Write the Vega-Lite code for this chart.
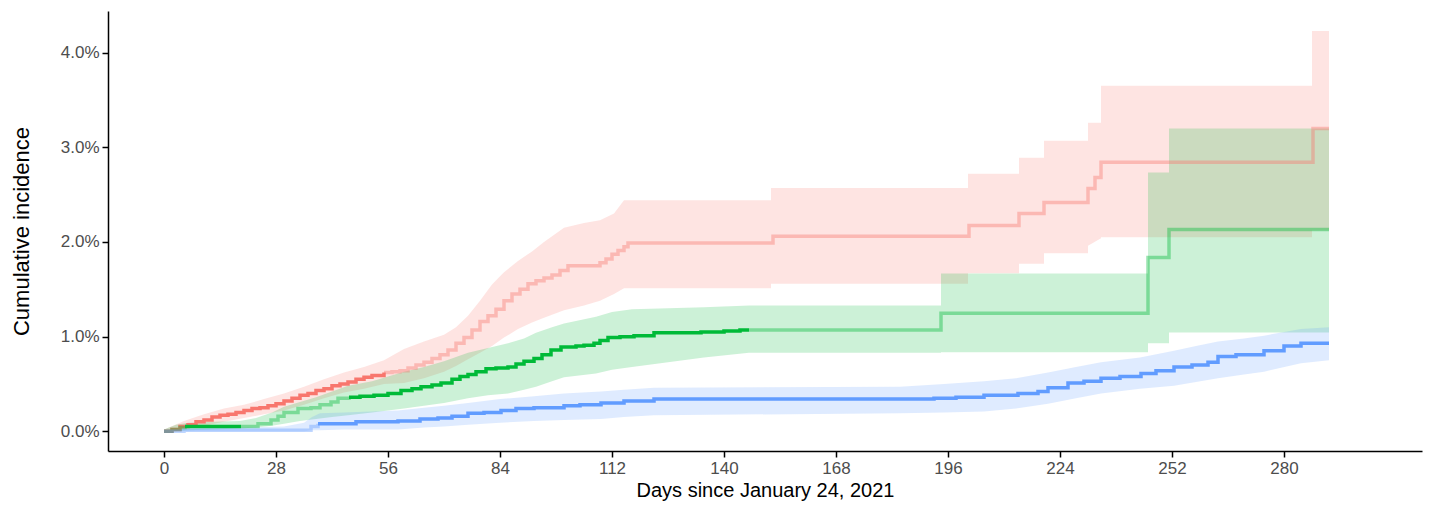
{
  "$schema": "https://vega.github.io/schema/vega-lite/v6.json",
  "width": 1314,
  "height": 440,
  "autosize": {"type": "none"},
  "padding": {"left": 108, "top": 11, "right": 7, "bottom": 54},
  "background": "white",
  "config": {
    "view": {"stroke": null},
    "font": "Liberation Sans",
    "axis": {
      "grid": false,
      "domainColor": "#000000",
      "domainWidth": 1.5,
      "tickColor": "#000000",
      "tickWidth": 1.5,
      "tickSize": 6,
      "labelColor": "#4D4D4D",
      "labelFont": "Liberation Sans",
      "labelFontSize": 17,
      "labelPadding": 3,
      "titleFont": "Liberation Sans",
      "titleFontWeight": "normal",
      "titleColor": "#000000"
    }
  },
  "datasets": {
    "bands": [
      {"group": "Group 1", "day": 0, "lo": 0, "hi": 0.0002},
      {"group": "Group 1", "day": 5, "lo": 0.0002, "hi": 0.0011},
      {"group": "Group 1", "day": 10, "lo": 0.0006, "hi": 0.0018},
      {"group": "Group 1", "day": 15, "lo": 0.001, "hi": 0.0024},
      {"group": "Group 1", "day": 20, "lo": 0.0014, "hi": 0.0028},
      {"group": "Group 1", "day": 25, "lo": 0.0018, "hi": 0.0034},
      {"group": "Group 1", "day": 30, "lo": 0.0022, "hi": 0.004},
      {"group": "Group 1", "day": 35, "lo": 0.0028, "hi": 0.0047},
      {"group": "Group 1", "day": 40, "lo": 0.0035, "hi": 0.0055},
      {"group": "Group 1", "day": 45, "lo": 0.0041, "hi": 0.0062},
      {"group": "Group 1", "day": 50, "lo": 0.0045, "hi": 0.0068},
      {"group": "Group 1", "day": 55, "lo": 0.005, "hi": 0.0075},
      {"group": "Group 1", "day": 60, "lo": 0.0051, "hi": 0.0087},
      {"group": "Group 1", "day": 65, "lo": 0.0056, "hi": 0.0095},
      {"group": "Group 1", "day": 70, "lo": 0.0063, "hi": 0.0102},
      {"group": "Group 1", "day": 73, "lo": 0.0069, "hi": 0.011},
      {"group": "Group 1", "day": 76, "lo": 0.0076, "hi": 0.0122},
      {"group": "Group 1", "day": 79, "lo": 0.0083, "hi": 0.0138},
      {"group": "Group 1", "day": 82, "lo": 0.009, "hi": 0.0155},
      {"group": "Group 1", "day": 85, "lo": 0.0099, "hi": 0.0168},
      {"group": "Group 1", "day": 88.5, "lo": 0.0108, "hi": 0.018},
      {"group": "Group 1", "day": 92, "lo": 0.0115, "hi": 0.019},
      {"group": "Group 1", "day": 95, "lo": 0.012, "hi": 0.02},
      {"group": "Group 1", "day": 100, "lo": 0.0128, "hi": 0.0215},
      {"group": "Group 1", "day": 105, "lo": 0.0133, "hi": 0.022},
      {"group": "Group 1", "day": 109, "lo": 0.0138, "hi": 0.0223},
      {"group": "Group 1", "day": 112.5, "lo": 0.0145, "hi": 0.023},
      {"group": "Group 1", "day": 115, "lo": 0.0151, "hi": 0.0244},
      {"group": "Group 1", "day": 151.75, "lo": 0.0151, "hi": 0.0244},
      {"group": "Group 1", "day": 151.75, "lo": 0.0156, "hi": 0.0257},
      {"group": "Group 1", "day": 201, "lo": 0.0156, "hi": 0.0257},
      {"group": "Group 1", "day": 201, "lo": 0.0167, "hi": 0.0272},
      {"group": "Group 1", "day": 213.75, "lo": 0.0167, "hi": 0.0272},
      {"group": "Group 1", "day": 213.75, "lo": 0.0177, "hi": 0.0289},
      {"group": "Group 1", "day": 220, "lo": 0.0177, "hi": 0.0289},
      {"group": "Group 1", "day": 220, "lo": 0.0188, "hi": 0.0307},
      {"group": "Group 1", "day": 231, "lo": 0.0188, "hi": 0.0307},
      {"group": "Group 1", "day": 231, "lo": 0.0196, "hi": 0.0326},
      {"group": "Group 1", "day": 234.25, "lo": 0.0204, "hi": 0.0326},
      {"group": "Group 1", "day": 234.25, "lo": 0.0205, "hi": 0.0365},
      {"group": "Group 1", "day": 287, "lo": 0.0205, "hi": 0.0365},
      {"group": "Group 1", "day": 287, "lo": 0.0212, "hi": 0.0423},
      {"group": "Group 1", "day": 291.25, "lo": 0.0212, "hi": 0.0423},
      {"group": "Group 2", "day": 0, "lo": 0, "hi": 0.0002},
      {"group": "Group 2", "day": 3, "lo": 0, "hi": 0.0007},
      {"group": "Group 2", "day": 6, "lo": 0.0001, "hi": 0.0009},
      {"group": "Group 2", "day": 12, "lo": 0.0002, "hi": 0.001},
      {"group": "Group 2", "day": 19, "lo": 0.0003, "hi": 0.0011},
      {"group": "Group 2", "day": 23, "lo": 0.0004, "hi": 0.0014},
      {"group": "Group 2", "day": 27, "lo": 0.0006, "hi": 0.002},
      {"group": "Group 2", "day": 30, "lo": 0.0008, "hi": 0.0026},
      {"group": "Group 2", "day": 34, "lo": 0.0011, "hi": 0.0031},
      {"group": "Group 2", "day": 38, "lo": 0.0013, "hi": 0.0036},
      {"group": "Group 2", "day": 42, "lo": 0.0015, "hi": 0.0042},
      {"group": "Group 2", "day": 46, "lo": 0.0017, "hi": 0.0048},
      {"group": "Group 2", "day": 52, "lo": 0.002, "hi": 0.0053},
      {"group": "Group 2", "day": 56, "lo": 0.0022, "hi": 0.0058},
      {"group": "Group 2", "day": 60, "lo": 0.0024, "hi": 0.0063},
      {"group": "Group 2", "day": 65, "lo": 0.0027, "hi": 0.0068},
      {"group": "Group 2", "day": 70, "lo": 0.003, "hi": 0.0074},
      {"group": "Group 2", "day": 76, "lo": 0.0035, "hi": 0.0083},
      {"group": "Group 2", "day": 81, "lo": 0.0038, "hi": 0.0088},
      {"group": "Group 2", "day": 86, "lo": 0.004, "hi": 0.0093},
      {"group": "Group 2", "day": 90, "lo": 0.0044, "hi": 0.0098},
      {"group": "Group 2", "day": 93, "lo": 0.0047, "hi": 0.0104},
      {"group": "Group 2", "day": 97, "lo": 0.0053, "hi": 0.011},
      {"group": "Group 2", "day": 100, "lo": 0.0057, "hi": 0.0114},
      {"group": "Group 2", "day": 108, "lo": 0.0061, "hi": 0.0121},
      {"group": "Group 2", "day": 112, "lo": 0.0065, "hi": 0.0126},
      {"group": "Group 2", "day": 117, "lo": 0.0068, "hi": 0.0129},
      {"group": "Group 2", "day": 135, "lo": 0.0078, "hi": 0.0131},
      {"group": "Group 2", "day": 146.25, "lo": 0.0083, "hi": 0.0133},
      {"group": "Group 2", "day": 194.25, "lo": 0.0083, "hi": 0.0133},
      {"group": "Group 2", "day": 194.25, "lo": 0.00834, "hi": 0.01668},
      {"group": "Group 2", "day": 246, "lo": 0.00834, "hi": 0.01668},
      {"group": "Group 2", "day": 246, "lo": 0.0093, "hi": 0.02735},
      {"group": "Group 2", "day": 251.25, "lo": 0.0093, "hi": 0.02735},
      {"group": "Group 2", "day": 251.25, "lo": 0.01045, "hi": 0.032},
      {"group": "Group 2", "day": 291.25, "lo": 0.01045, "hi": 0.032},
      {"group": "Group 3", "day": 0, "lo": 0, "hi": 0.0001},
      {"group": "Group 3", "day": 10, "lo": 0, "hi": 0.0003},
      {"group": "Group 3", "day": 30, "lo": 0, "hi": 0.0005},
      {"group": "Group 3", "day": 35, "lo": 0, "hi": 0.0009},
      {"group": "Group 3", "day": 37, "lo": 0.0001, "hi": 0.0015},
      {"group": "Group 3", "day": 39, "lo": 0.0001, "hi": 0.0019},
      {"group": "Group 3", "day": 45, "lo": 0.0002, "hi": 0.002},
      {"group": "Group 3", "day": 58.5, "lo": 0.0002, "hi": 0.0022},
      {"group": "Group 3", "day": 65, "lo": 0.0004, "hi": 0.0025},
      {"group": "Group 3", "day": 70, "lo": 0.0005, "hi": 0.0027},
      {"group": "Group 3", "day": 76, "lo": 0.0007, "hi": 0.003},
      {"group": "Group 3", "day": 84, "lo": 0.0009, "hi": 0.0034},
      {"group": "Group 3", "day": 92.5, "lo": 0.0011, "hi": 0.0037},
      {"group": "Group 3", "day": 100, "lo": 0.0012, "hi": 0.004},
      {"group": "Group 3", "day": 109.25, "lo": 0.0013, "hi": 0.0042},
      {"group": "Group 3", "day": 115, "lo": 0.0015, "hi": 0.0044},
      {"group": "Group 3", "day": 122.5, "lo": 0.0017, "hi": 0.0046},
      {"group": "Group 3", "day": 184, "lo": 0.0019, "hi": 0.0047},
      {"group": "Group 3", "day": 195, "lo": 0.002, "hi": 0.005},
      {"group": "Group 3", "day": 205, "lo": 0.0021, "hi": 0.0053},
      {"group": "Group 3", "day": 213, "lo": 0.0024, "hi": 0.0056},
      {"group": "Group 3", "day": 221, "lo": 0.0029, "hi": 0.0062},
      {"group": "Group 3", "day": 228, "lo": 0.0035, "hi": 0.0068},
      {"group": "Group 3", "day": 234.25, "lo": 0.004, "hi": 0.0073},
      {"group": "Group 3", "day": 244, "lo": 0.0045, "hi": 0.0078},
      {"group": "Group 3", "day": 252.5, "lo": 0.0048, "hi": 0.0085},
      {"group": "Group 3", "day": 258, "lo": 0.0052, "hi": 0.009},
      {"group": "Group 3", "day": 263.5, "lo": 0.0056, "hi": 0.0095},
      {"group": "Group 3", "day": 270, "lo": 0.006, "hi": 0.0098},
      {"group": "Group 3", "day": 275, "lo": 0.0063, "hi": 0.0101},
      {"group": "Group 3", "day": 284.25, "lo": 0.0072, "hi": 0.0108},
      {"group": "Group 3", "day": 291.25, "lo": 0.0075, "hi": 0.011}
    ],
    "curves": [
      {"group": "Group 1", "piece": "r1", "emphasis": "high", "day": 0, "est": 0},
      {"group": "Group 1", "piece": "r1", "emphasis": "high", "day": 2, "est": 0.0002},
      {"group": "Group 1", "piece": "r1", "emphasis": "high", "day": 4, "est": 0.0005},
      {"group": "Group 1", "piece": "r1", "emphasis": "high", "day": 6, "est": 0.0007},
      {"group": "Group 1", "piece": "r1", "emphasis": "high", "day": 8, "est": 0.001},
      {"group": "Group 1", "piece": "r1", "emphasis": "high", "day": 10, "est": 0.0012},
      {"group": "Group 1", "piece": "r1", "emphasis": "high", "day": 12, "est": 0.0015},
      {"group": "Group 1", "piece": "r1", "emphasis": "high", "day": 14, "est": 0.0017},
      {"group": "Group 1", "piece": "r1", "emphasis": "high", "day": 16, "est": 0.0018},
      {"group": "Group 1", "piece": "r1", "emphasis": "high", "day": 18, "est": 0.002},
      {"group": "Group 1", "piece": "r1", "emphasis": "high", "day": 20, "est": 0.0022},
      {"group": "Group 1", "piece": "r1", "emphasis": "high", "day": 22, "est": 0.0024},
      {"group": "Group 1", "piece": "r1", "emphasis": "high", "day": 24, "est": 0.0025},
      {"group": "Group 1", "piece": "r1", "emphasis": "high", "day": 26, "est": 0.0027},
      {"group": "Group 1", "piece": "r1", "emphasis": "high", "day": 28, "est": 0.0029},
      {"group": "Group 1", "piece": "r1", "emphasis": "high", "day": 30, "est": 0.0032},
      {"group": "Group 1", "piece": "r1", "emphasis": "high", "day": 32, "est": 0.0035},
      {"group": "Group 1", "piece": "r1", "emphasis": "high", "day": 34, "est": 0.0038},
      {"group": "Group 1", "piece": "r1", "emphasis": "high", "day": 36, "est": 0.004},
      {"group": "Group 1", "piece": "r1", "emphasis": "high", "day": 38, "est": 0.0043},
      {"group": "Group 1", "piece": "r1", "emphasis": "high", "day": 40, "est": 0.0045},
      {"group": "Group 1", "piece": "r1", "emphasis": "high", "day": 42, "est": 0.0048},
      {"group": "Group 1", "piece": "r1", "emphasis": "high", "day": 44, "est": 0.005},
      {"group": "Group 1", "piece": "r1", "emphasis": "high", "day": 46, "est": 0.0052},
      {"group": "Group 1", "piece": "r1", "emphasis": "high", "day": 48, "est": 0.0055},
      {"group": "Group 1", "piece": "r1", "emphasis": "high", "day": 50, "est": 0.0057},
      {"group": "Group 1", "piece": "r1", "emphasis": "high", "day": 52, "est": 0.0059},
      {"group": "Group 1", "piece": "r1", "emphasis": "high", "day": 55, "est": 0.0062},
      {"group": "Group 1", "piece": "r2", "emphasis": "low", "day": 55, "est": 0.0062},
      {"group": "Group 1", "piece": "r2", "emphasis": "low", "day": 57, "est": 0.0063},
      {"group": "Group 1", "piece": "r2", "emphasis": "low", "day": 59, "est": 0.0064},
      {"group": "Group 1", "piece": "r2", "emphasis": "low", "day": 61, "est": 0.0067},
      {"group": "Group 1", "piece": "r2", "emphasis": "low", "day": 63, "est": 0.007},
      {"group": "Group 1", "piece": "r2", "emphasis": "low", "day": 65, "est": 0.0073},
      {"group": "Group 1", "piece": "r2", "emphasis": "low", "day": 67, "est": 0.0077},
      {"group": "Group 1", "piece": "r2", "emphasis": "low", "day": 69, "est": 0.0081},
      {"group": "Group 1", "piece": "r2", "emphasis": "low", "day": 71, "est": 0.0086},
      {"group": "Group 1", "piece": "r2", "emphasis": "low", "day": 73, "est": 0.0093},
      {"group": "Group 1", "piece": "r2", "emphasis": "low", "day": 75, "est": 0.0099},
      {"group": "Group 1", "piece": "r2", "emphasis": "low", "day": 77, "est": 0.0107},
      {"group": "Group 1", "piece": "r2", "emphasis": "low", "day": 79, "est": 0.0116},
      {"group": "Group 1", "piece": "r2", "emphasis": "low", "day": 81, "est": 0.0122},
      {"group": "Group 1", "piece": "r2", "emphasis": "low", "day": 83, "est": 0.0129},
      {"group": "Group 1", "piece": "r2", "emphasis": "low", "day": 85, "est": 0.0138},
      {"group": "Group 1", "piece": "r2", "emphasis": "low", "day": 87, "est": 0.0145},
      {"group": "Group 1", "piece": "r2", "emphasis": "low", "day": 89, "est": 0.015},
      {"group": "Group 1", "piece": "r2", "emphasis": "low", "day": 91, "est": 0.0156},
      {"group": "Group 1", "piece": "r2", "emphasis": "low", "day": 93, "est": 0.0159},
      {"group": "Group 1", "piece": "r2", "emphasis": "low", "day": 95, "est": 0.0162},
      {"group": "Group 1", "piece": "r2", "emphasis": "low", "day": 97, "est": 0.0165},
      {"group": "Group 1", "piece": "r2", "emphasis": "low", "day": 99, "est": 0.017},
      {"group": "Group 1", "piece": "r2", "emphasis": "low", "day": 101, "est": 0.0175},
      {"group": "Group 1", "piece": "r2", "emphasis": "low", "day": 109, "est": 0.0178},
      {"group": "Group 1", "piece": "r2", "emphasis": "low", "day": 110.5, "est": 0.0182},
      {"group": "Group 1", "piece": "r2", "emphasis": "low", "day": 112, "est": 0.0187},
      {"group": "Group 1", "piece": "r2", "emphasis": "low", "day": 113.5, "est": 0.0191},
      {"group": "Group 1", "piece": "r2", "emphasis": "low", "day": 115, "est": 0.0195},
      {"group": "Group 1", "piece": "r2", "emphasis": "low", "day": 116, "est": 0.0199},
      {"group": "Group 1", "piece": "r2", "emphasis": "low", "day": 152.25, "est": 0.0206},
      {"group": "Group 1", "piece": "r2", "emphasis": "low", "day": 201.25, "est": 0.02175},
      {"group": "Group 1", "piece": "r2", "emphasis": "low", "day": 213.75, "est": 0.02302},
      {"group": "Group 1", "piece": "r2", "emphasis": "low", "day": 220, "est": 0.02418},
      {"group": "Group 1", "piece": "r2", "emphasis": "low", "day": 231, "est": 0.02566},
      {"group": "Group 1", "piece": "r2", "emphasis": "low", "day": 232.75, "est": 0.02682},
      {"group": "Group 1", "piece": "r2", "emphasis": "low", "day": 234.25, "est": 0.02841},
      {"group": "Group 1", "piece": "r2", "emphasis": "low", "day": 287.25, "est": 0.032},
      {"group": "Group 1", "piece": "r2", "emphasis": "low", "day": 291.25, "est": 0.032},
      {"group": "Group 2", "piece": "g1", "emphasis": "low", "day": 0, "est": 0},
      {"group": "Group 2", "piece": "g1", "emphasis": "low", "day": 2, "est": 0.0002},
      {"group": "Group 2", "piece": "g1", "emphasis": "low", "day": 4, "est": 0.0004},
      {"group": "Group 2", "piece": "g1", "emphasis": "low", "day": 5.25, "est": 0.0005},
      {"group": "Group 2", "piece": "g2", "emphasis": "high", "day": 5.25, "est": 0.0005},
      {"group": "Group 2", "piece": "g2", "emphasis": "high", "day": 19.25, "est": 0.0005},
      {"group": "Group 2", "piece": "g3", "emphasis": "low", "day": 19.25, "est": 0.0005},
      {"group": "Group 2", "piece": "g3", "emphasis": "low", "day": 23.5, "est": 0.0008},
      {"group": "Group 2", "piece": "g3", "emphasis": "low", "day": 26.75, "est": 0.0012},
      {"group": "Group 2", "piece": "g3", "emphasis": "low", "day": 28.5, "est": 0.0016},
      {"group": "Group 2", "piece": "g3", "emphasis": "low", "day": 30, "est": 0.002},
      {"group": "Group 2", "piece": "g3", "emphasis": "low", "day": 33.5, "est": 0.0024},
      {"group": "Group 2", "piece": "g3", "emphasis": "low", "day": 36.75, "est": 0.0025},
      {"group": "Group 2", "piece": "g3", "emphasis": "low", "day": 39, "est": 0.0028},
      {"group": "Group 2", "piece": "g3", "emphasis": "low", "day": 41.75, "est": 0.0031},
      {"group": "Group 2", "piece": "g3", "emphasis": "low", "day": 43.5, "est": 0.0035},
      {"group": "Group 2", "piece": "g3", "emphasis": "low", "day": 46.25, "est": 0.0036},
      {"group": "Group 2", "piece": "g4", "emphasis": "high", "day": 46.25, "est": 0.0036},
      {"group": "Group 2", "piece": "g4", "emphasis": "high", "day": 49, "est": 0.0037},
      {"group": "Group 2", "piece": "g4", "emphasis": "high", "day": 52.5, "est": 0.0038},
      {"group": "Group 2", "piece": "g4", "emphasis": "high", "day": 56, "est": 0.004},
      {"group": "Group 2", "piece": "g4", "emphasis": "high", "day": 59.25, "est": 0.0043},
      {"group": "Group 2", "piece": "g4", "emphasis": "high", "day": 62, "est": 0.0045},
      {"group": "Group 2", "piece": "g4", "emphasis": "high", "day": 64.25, "est": 0.0047},
      {"group": "Group 2", "piece": "g4", "emphasis": "high", "day": 67, "est": 0.0049},
      {"group": "Group 2", "piece": "g4", "emphasis": "high", "day": 69.25, "est": 0.0051},
      {"group": "Group 2", "piece": "g4", "emphasis": "high", "day": 72, "est": 0.0055},
      {"group": "Group 2", "piece": "g4", "emphasis": "high", "day": 74, "est": 0.0058},
      {"group": "Group 2", "piece": "g4", "emphasis": "high", "day": 76, "est": 0.006},
      {"group": "Group 2", "piece": "g4", "emphasis": "high", "day": 78, "est": 0.0063},
      {"group": "Group 2", "piece": "g4", "emphasis": "high", "day": 80.5, "est": 0.0066},
      {"group": "Group 2", "piece": "g4", "emphasis": "high", "day": 83, "est": 0.0067},
      {"group": "Group 2", "piece": "g4", "emphasis": "high", "day": 86, "est": 0.0068},
      {"group": "Group 2", "piece": "g4", "emphasis": "high", "day": 88, "est": 0.0071},
      {"group": "Group 2", "piece": "g4", "emphasis": "high", "day": 90, "est": 0.0074},
      {"group": "Group 2", "piece": "g4", "emphasis": "high", "day": 92.5, "est": 0.0077},
      {"group": "Group 2", "piece": "g4", "emphasis": "high", "day": 94.5, "est": 0.0081},
      {"group": "Group 2", "piece": "g4", "emphasis": "high", "day": 96.75, "est": 0.0086},
      {"group": "Group 2", "piece": "g4", "emphasis": "high", "day": 99.25, "est": 0.0089},
      {"group": "Group 2", "piece": "g4", "emphasis": "high", "day": 103, "est": 0.009},
      {"group": "Group 2", "piece": "g4", "emphasis": "high", "day": 105, "est": 0.0091},
      {"group": "Group 2", "piece": "g4", "emphasis": "high", "day": 107.5, "est": 0.0093},
      {"group": "Group 2", "piece": "g4", "emphasis": "high", "day": 109, "est": 0.0096},
      {"group": "Group 2", "piece": "g4", "emphasis": "high", "day": 111, "est": 0.0099},
      {"group": "Group 2", "piece": "g4", "emphasis": "high", "day": 114, "est": 0.01},
      {"group": "Group 2", "piece": "g4", "emphasis": "high", "day": 117.5, "est": 0.0101},
      {"group": "Group 2", "piece": "g4", "emphasis": "high", "day": 122.5, "est": 0.0104},
      {"group": "Group 2", "piece": "g4", "emphasis": "high", "day": 134.25, "est": 0.0105},
      {"group": "Group 2", "piece": "g4", "emphasis": "high", "day": 140, "est": 0.0106},
      {"group": "Group 2", "piece": "g4", "emphasis": "high", "day": 144, "est": 0.0107},
      {"group": "Group 2", "piece": "g4", "emphasis": "high", "day": 146.25, "est": 0.0107},
      {"group": "Group 2", "piece": "g5", "emphasis": "low", "day": 146.25, "est": 0.0107},
      {"group": "Group 2", "piece": "g5", "emphasis": "low", "day": 194.25, "est": 0.01246},
      {"group": "Group 2", "piece": "g5", "emphasis": "low", "day": 246, "est": 0.01837},
      {"group": "Group 2", "piece": "g5", "emphasis": "low", "day": 251.25, "est": 0.02133},
      {"group": "Group 2", "piece": "g5", "emphasis": "low", "day": 291.25, "est": 0.02133},
      {"group": "Group 3", "piece": "b1", "emphasis": "low", "day": 0, "est": 0},
      {"group": "Group 3", "piece": "b1", "emphasis": "low", "day": 5, "est": 0.0001},
      {"group": "Group 3", "piece": "b1", "emphasis": "low", "day": 35, "est": 0.0001},
      {"group": "Group 3", "piece": "b1", "emphasis": "low", "day": 36.75, "est": 0.0005},
      {"group": "Group 3", "piece": "b1", "emphasis": "low", "day": 38.5, "est": 0.0008},
      {"group": "Group 3", "piece": "b2", "emphasis": "high", "day": 38.5, "est": 0.0008},
      {"group": "Group 3", "piece": "b2", "emphasis": "high", "day": 48, "est": 0.001},
      {"group": "Group 3", "piece": "b2", "emphasis": "high", "day": 58.5, "est": 0.0011},
      {"group": "Group 3", "piece": "b2", "emphasis": "high", "day": 64, "est": 0.0013},
      {"group": "Group 3", "piece": "b2", "emphasis": "high", "day": 68.5, "est": 0.0014},
      {"group": "Group 3", "piece": "b2", "emphasis": "high", "day": 72, "est": 0.0016},
      {"group": "Group 3", "piece": "b2", "emphasis": "high", "day": 76, "est": 0.0019},
      {"group": "Group 3", "piece": "b2", "emphasis": "high", "day": 80, "est": 0.002},
      {"group": "Group 3", "piece": "b2", "emphasis": "high", "day": 84.25, "est": 0.0022},
      {"group": "Group 3", "piece": "b2", "emphasis": "high", "day": 88, "est": 0.0024},
      {"group": "Group 3", "piece": "b2", "emphasis": "high", "day": 92.5, "est": 0.0025},
      {"group": "Group 3", "piece": "b2", "emphasis": "high", "day": 100, "est": 0.0027},
      {"group": "Group 3", "piece": "b2", "emphasis": "high", "day": 104, "est": 0.0028},
      {"group": "Group 3", "piece": "b2", "emphasis": "high", "day": 109.25, "est": 0.003},
      {"group": "Group 3", "piece": "b2", "emphasis": "high", "day": 115, "est": 0.0032},
      {"group": "Group 3", "piece": "b2", "emphasis": "high", "day": 122.5, "est": 0.0034},
      {"group": "Group 3", "piece": "b2", "emphasis": "high", "day": 184.25, "est": 0.0034},
      {"group": "Group 3", "piece": "b2", "emphasis": "high", "day": 192.5, "est": 0.0035},
      {"group": "Group 3", "piece": "b2", "emphasis": "high", "day": 198, "est": 0.0036},
      {"group": "Group 3", "piece": "b2", "emphasis": "high", "day": 205, "est": 0.0038},
      {"group": "Group 3", "piece": "b2", "emphasis": "high", "day": 213.5, "est": 0.004},
      {"group": "Group 3", "piece": "b2", "emphasis": "high", "day": 218.5, "est": 0.0042},
      {"group": "Group 3", "piece": "b2", "emphasis": "high", "day": 221, "est": 0.0046},
      {"group": "Group 3", "piece": "b2", "emphasis": "high", "day": 226, "est": 0.0051},
      {"group": "Group 3", "piece": "b2", "emphasis": "high", "day": 230, "est": 0.0053},
      {"group": "Group 3", "piece": "b2", "emphasis": "high", "day": 234.25, "est": 0.0056},
      {"group": "Group 3", "piece": "b2", "emphasis": "high", "day": 239, "est": 0.0058},
      {"group": "Group 3", "piece": "b2", "emphasis": "high", "day": 244.25, "est": 0.0061},
      {"group": "Group 3", "piece": "b2", "emphasis": "high", "day": 248, "est": 0.0064},
      {"group": "Group 3", "piece": "b2", "emphasis": "high", "day": 252.5, "est": 0.0068},
      {"group": "Group 3", "piece": "b2", "emphasis": "high", "day": 257, "est": 0.007},
      {"group": "Group 3", "piece": "b2", "emphasis": "high", "day": 261, "est": 0.0073},
      {"group": "Group 3", "piece": "b2", "emphasis": "high", "day": 263.5, "est": 0.0079},
      {"group": "Group 3", "piece": "b2", "emphasis": "high", "day": 268, "est": 0.0081},
      {"group": "Group 3", "piece": "b2", "emphasis": "high", "day": 275, "est": 0.0085},
      {"group": "Group 3", "piece": "b2", "emphasis": "high", "day": 280, "est": 0.009},
      {"group": "Group 3", "piece": "b2", "emphasis": "high", "day": 284.25, "est": 0.0093},
      {"group": "Group 3", "piece": "b2", "emphasis": "high", "day": 291.25, "est": 0.0093}
    ]
  },
  "layer": [
    {
      "data": {"name": "bands"},
      "mark": {"type": "area", "interpolate": "linear", "opacity": 0.2},
      "encoding": {
        "x": {"field": "day", "type": "quantitative", "scale": {"domain": [-14, 314.5], "nice": false, "zero": false},
          "axis": {"values": [0, 28, 56, 84, 112, 140, 168, 196, 224, 252, 280], "title": "Days since January 24, 2021", "titleFontSize": 20, "titlePadding": 4}},
        "y": {"field": "lo", "type": "quantitative", "scale": {"domain": [-0.00208, 0.0444], "nice": false, "zero": false},
          "axis": {"values": [0, 0.01, 0.02, 0.03, 0.04], "format": ".1%", "title": "Cumulative incidence", "titleFontSize": 22, "titlePadding": 27}},
        "y2": {"field": "hi"},
        "color": {"field": "group", "type": "nominal", "scale": {"domain": ["Group 1", "Group 2", "Group 3"], "range": ["#F8766D", "#00BA38", "#619CFF"]}, "legend": null}
      }
    },
    {
      "data": {"name": "curves"},
      "mark": {"type": "line", "interpolate": "step-after", "strokeWidth": 3.5},
      "encoding": {
        "x": {"field": "day", "type": "quantitative"},
        "y": {"field": "est", "type": "quantitative"},
        "color": {"field": "group", "type": "nominal", "legend": null},
        "detail": {"field": "piece", "type": "nominal"},
        "opacity": {"field": "emphasis", "type": "nominal", "scale": {"domain": ["high", "low"], "range": [1, 0.4]}, "legend": null}
      }
    }
  ]
}
